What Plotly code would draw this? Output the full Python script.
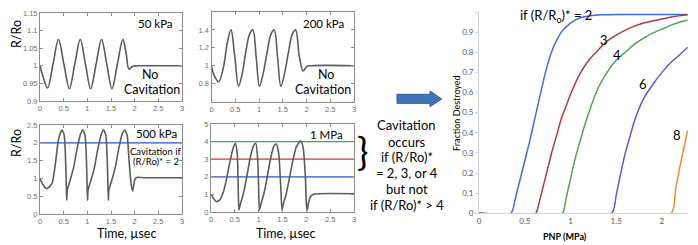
import plotly.graph_objects as go

# The page body has an 8px default margin, so the figure is placed 8px in.
OFF = 8
W, H = 698 - OFF, 245 - OFF
def px(x): return (x - OFF) / W
def py(y): return 1 - (y - OFF) / H

# ---------------- data: bubble radius vs time ----------------
t_50 = [0, 0.05, 0.16, 0.275, 0.39, 0.505, 0.62, 0.735, 0.85, 0.96, 1.07, 1.185, 1.30, 1.41, 1.52, 1.635, 1.75, 1.82, 1.88, 1.95, 2.05, 2.2, 3.0]
r_50 = [1.0, 0.975, 0.937, 1.005, 1.075, 1.005, 0.935, 1.005, 1.075, 1.005, 0.935, 1.005, 1.075, 1.005, 0.935, 1.005, 1.075, 1.035, 0.99, 0.998, 1.0, 1.0, 1.0]

t_200 = [0, 0.05, 0.15, 0.25, 0.33, 0.41, 0.49, 0.57, 0.65, 0.72, 0.80, 0.87, 0.94, 1.01, 1.09, 1.17, 1.25, 1.32, 1.39, 1.46, 1.54, 1.62, 1.70, 1.77, 1.85, 1.93, 2.0, 2.1, 3.0]
r_200 = [1.0, 0.9, 0.82, 0.98, 1.25, 1.40, 1.1, 0.77, 0.92, 1.15, 1.35, 1.40, 1.1, 0.77, 0.92, 1.15, 1.35, 1.40, 1.1, 0.77, 0.92, 1.15, 1.35, 1.40, 1.1, 0.94, 0.99, 1.0, 1.0]

t_500 = [0, 0.05, 0.14, 0.25, 0.32, 0.39, 0.46, 0.51, 0.54, 0.555, 0.565, 0.575, 0.635, 0.71, 0.78, 0.85, 0.90, 0.95, 0.98, 0.995, 1.005, 1.015, 1.075, 1.15, 1.22, 1.29, 1.34, 1.39, 1.42, 1.435, 1.445, 1.455, 1.515, 1.59, 1.66, 1.73, 1.79, 1.84, 1.88, 1.92, 1.955, 2.01, 2.06, 2.2, 3.0]
r_500 = [1.0, 0.85, 0.71, 0.85, 1.36, 2.09, 2.36, 2.22, 1.54, 0.8, 0.38, 0.67, 0.94, 1.31, 1.81, 2.22, 2.36, 2.22, 1.54, 0.8, 0.38, 0.67, 0.94, 1.31, 1.81, 2.22, 2.36, 2.22, 1.54, 0.8, 0.38, 0.67, 0.94, 1.31, 1.81, 2.22, 2.36, 2.22, 1.54, 0.9, 0.64, 0.99, 1.03, 1.02, 1.02]

t_1000 = [0, 0.11, 0.18, 0.25, 0.32, 0.39, 0.46, 0.51, 0.55, 0.57, 0.585, 0.61, 0.68, 0.75, 0.82, 0.89, 0.94, 0.98, 1.0, 1.015, 1.04, 1.11, 1.18, 1.25, 1.32, 1.37, 1.42, 1.46, 1.49, 1.51, 1.58, 1.65, 1.72, 1.79, 1.88, 1.93, 1.98, 2.0, 2.02, 2.05, 2.09, 2.14, 2.25, 3.0]
r_1000 = [1.0, 0.6, 0.67, 1.05, 1.8, 2.76, 3.6, 3.9, 3.33, 1.6, 0.1, 0.38, 1.05, 2.0, 3.04, 3.75, 3.9, 2.95, 1.24, 0.1, 0.38, 1.05, 2.0, 3.04, 3.75, 3.86, 3.33, 1.6, 0.1, 0.38, 1.05, 2.0, 2.95, 3.7, 4.05, 3.7, 2.0, 0.48, 0.1, 0.57, 0.9, 1.0, 1.04, 1.04]

time_ticks = [0, 0.5, 1, 1.5, 2, 2.5, 3]
time_labels = ["0", "0.5", "1", "1.5", "2", "2.5", "3"]

# ---------------- data: fraction destroyed vs PNP ----------------
pnp_2 = [0, 0.35, 0.40, 0.45, 0.50, 0.55, 0.60, 0.65, 0.70, 0.75, 0.80, 0.85, 0.90, 1.00, 1.10, 1.20, 1.35, 1.50, 2.28]
frac_2 = [0, 0, 0.08, 0.17, 0.26, 0.35, 0.45, 0.55, 0.65, 0.74, 0.81, 0.86, 0.90, 0.945, 0.97, 0.98, 0.986, 0.988, 0.988]
pnp_3 = [0, 0.62, 0.65, 0.70, 0.75, 0.80, 0.85, 0.90, 0.95, 1.0, 1.1, 1.2, 1.3, 1.4, 1.5, 1.6, 1.7, 1.8, 1.9, 2.0, 2.1, 2.2, 2.28]
frac_3 = [0, 0, 0.04, 0.13, 0.22, 0.31, 0.39, 0.47, 0.53, 0.59, 0.69, 0.76, 0.81, 0.855, 0.885, 0.91, 0.93, 0.945, 0.955, 0.965, 0.975, 0.982, 0.986]
pnp_4 = [0, 0.91, 0.95, 1.0, 1.05, 1.1, 1.15, 1.2, 1.3, 1.4, 1.5, 1.6, 1.7, 1.8, 1.9, 2.0, 2.1, 2.2, 2.28]
frac_4 = [0, 0, 0.07, 0.17, 0.27, 0.35, 0.43, 0.5, 0.62, 0.70, 0.76, 0.80, 0.84, 0.87, 0.895, 0.915, 0.935, 0.95, 0.96]
pnp_6 = [0, 1.45, 1.5, 1.55, 1.6, 1.65, 1.7, 1.8, 1.9, 2.0, 2.1, 2.2, 2.28]
frac_6 = [0, 0, 0.09, 0.2, 0.3, 0.38, 0.46, 0.57, 0.64, 0.70, 0.75, 0.79, 0.825]
pnp_8 = [0, 2.1, 2.15, 2.2, 2.28]
frac_8 = [0, 0, 0.12, 0.24, 0.41]

frac_ticks = [0, 0.1, 0.2, 0.3, 0.4, 0.5, 0.6, 0.7, 0.8, 0.9, 1]
frac_labels = ["0", "0.1", "0.2", "0.3", "0.4", "0.5", "0.6", "0.7", "0.8", "0.9", "1"]
pnp_ticks = [0, 0.5, 1, 1.5, 2]
pnp_labels = ["0", "0.5", "1", "1.5", "2"]

GRAY = "#5c5c5c"
fig = go.Figure()

def wave(t, r, ax, smooth):
    fig.add_trace(go.Scatter(x=t, y=r, mode="lines", xaxis="x" + ax, yaxis="y" + ax,
                             line=dict(color=GRAY, width=1.6, shape="spline", smoothing=smooth),
                             hoverinfo="skip"))

def hline(level, color, ax):
    fig.add_trace(go.Scatter(x=[0, 3], y=[level, level], mode="lines", xaxis="x" + ax, yaxis="y" + ax,
                             line=dict(color=color, width=1.3), hoverinfo="skip"))

hline(2, "#2f4fd0", "3")
hline(2, "#2f4fd0", "4")
hline(3, "#d03535", "4")
hline(4, "#35a855", "4")
wave(t_50, r_50, "", 1.0)
wave(t_200, r_200, "2", 1.0)
wave(t_500, r_500, "3", 0.6)
wave(t_1000, r_1000, "4", 0.6)

curves = [(pnp_2, frac_2, "#3a6fe0"), (pnp_3, frac_3, "#b03a3e"), (pnp_4, frac_4, "#4aa84e"),
          (pnp_6, frac_6, "#6655d8"), (pnp_8, frac_8, "#f28c2c")]
for xs, ys, c in curves:
    fig.add_trace(go.Scatter(x=xs, y=ys, mode="lines", xaxis="x5", yaxis="y5",
                             line=dict(color=c, width=1.5, shape="spline", smoothing=0.6),
                             hoverinfo="skip"))

tickf = dict(family="Liberation Sans", size=7.5, color="#6e6e6e")
def left_x(dom, anchor):
    return dict(domain=dom, anchor=anchor, range=[0, 3], tickvals=time_ticks, ticktext=time_labels,
                showline=True, linecolor="#8c8c8c", linewidth=1, mirror="ticks", ticks="inside",
                ticklen=3, tickcolor="#8c8c8c", tickfont=tickf, showgrid=False, zeroline=False,
                automargin=False)
def left_y(dom, anchor, rng, tv):
    return dict(domain=dom, anchor=anchor, range=rng, tickvals=tv, ticktext=[("%g" % v) for v in tv],
                showline=True, linecolor="#8c8c8c", linewidth=1, mirror="ticks", ticks="inside",
                ticklen=3, tickcolor="#8c8c8c", tickfont=tickf, showgrid=False, zeroline=False,
                automargin=False)

fig.update_layout(
    template="none",
    width=W, height=H, margin=dict(l=0, r=0, t=0, b=0, pad=0),
    paper_bgcolor="white", plot_bgcolor="white", showlegend=False,
    xaxis=left_x([px(40), px(182)], "y"),
    yaxis=left_y([py(101), py(13)], "x", [0.9, 1.15], [0.9, 0.95, 1, 1.05, 1.1, 1.15]),
    xaxis2=left_x([px(211.5), px(354)], "y2"),
    yaxis2=left_y([py(101.5), py(12)], "x2", [0.6, 1.6], [0.8, 1, 1.2, 1.4, 1.6]),
    xaxis3=left_x([px(40), px(182)], "y3"),
    yaxis3=left_y([py(214), py(125)], "x3", [0, 2.5], [0, 0.5, 1, 1.5, 2, 2.5]),
    xaxis4=left_x([px(211), px(354)], "y4"),
    yaxis4=left_y([py(212), py(124)], "x4", [0, 5], [0, 1, 2, 3, 4, 5]),
    xaxis5=dict(domain=[px(479), px(688)], anchor="y5", range=[0, 2.285], tickvals=pnp_ticks,
                ticktext=pnp_labels, showline=True, linecolor="#d4d4d4", ticks="",
                tickfont=dict(family="Lato", size=8, color="#595959"), showgrid=False, zeroline=False,
                automargin=False),
    yaxis5=dict(domain=[py(213.3), py(12)], anchor="x5", range=[0, 1.0], tickvals=frac_ticks,
                ticktext=frac_labels, showline=True, linecolor="#d4d4d4", ticks="outside", ticklen=3,
                tickcolor="#d4d4d4", tickfont=dict(family="Lato", size=8, color="#595959"),
                showgrid=False, zeroline=False, automargin=False),
)

ann = []
def A(text, x, y, size, xref="paper", yref="paper", color="black", family="Lato", angle=0, xanchor="center"):
    ann.append(dict(text=text, x=x, y=y, xref=xref, yref=yref, showarrow=False, xanchor=xanchor,
                    yanchor="middle", textangle=angle, font=dict(family=family, size=size, color=color)))

# left axis titles
A("R/Ro", px(16), py(34), 12.5, angle=-90)
A("R/Ro", px(16), py(143), 12.5, angle=-90)
A("Time, \u00b5sec", px(126.7), py(233.5), 12.5)
A("Time, \u00b5sec", px(285), py(233.5), 12.5)
# panel labels
A("50 kPa", 2.45, 1.119, 11.5, "x", "y")
A("No", 2.33, 0.974, 12.5, "x", "y")
A("Cavitation", 2.36, 0.933, 12.5, "x", "y")
A("200 kPa", 2.35, 1.47, 11.5, "x2", "y2")
A("No", 2.42, 0.907, 12.5, "x2", "y2")
A("Cavitation", 2.35, 0.736, 12.5, "x2", "y2")
A("500 kPa", 2.47, 2.25, 11.5, "x3", "y3")
A("Cavitation if", 2.43, 1.76, 9.5, "x3", "y3")
A("(R/Ro)* = 2", 2.45, 1.48, 9.5, "x3", "y3")
A("1 MPa", 2.43, 4.43, 11.5, "x4", "y4")
# middle text
mid_lines = ["Cavitation", "occurs", "if (R/Ro)*", "= 2, 3, or 4", "but not", "if (R/Ro)* > 4"]
mid_y = [125, 141.7, 157.3, 173.3, 189.3, 205]
for s, yy in zip(mid_lines, mid_y):
    A(s, px(406.7), py(yy), 13)
A("}", px(362), py(150), 38)
# right panel titles
A("Fraction Destroyed", px(457), py(113), 9, angle=-90)
A("<b>PNP (MPa)</b>", px(565), py(236.7), 9)
A("if (R/R<sub>o</sub>)* = 2", 0.84, 0.979, 13, "x5", "y5")
A("3", 1.366, 0.86, 13, "x5", "y5")
A("4", 1.505, 0.785, 13, "x5", "y5")
A("6", 1.79, 0.64, 13, "x5", "y5")
A("8", 2.17, 0.388, 13, "x5", "y5")
fig.update_layout(annotations=ann)

# arrow
pts = [(397, 94.3), (430, 94.3), (430, 91), (441.7, 99), (430, 106.7), (430, 103.3), (397, 103.3)]
path = "M " + " L ".join("%.5f,%.5f" % (px(a), py(b)) for a, b in pts) + " Z"
fig.add_shape(type="path", path=path, xref="paper", yref="paper",
              fillcolor="#3f74ba", line=dict(color="#2e5a94", width=1))

fig.write_html("out.html")
